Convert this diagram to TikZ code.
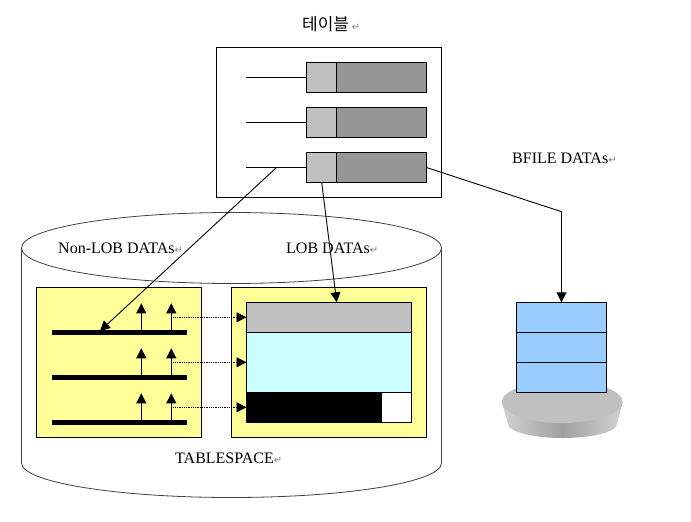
\documentclass[tikz,border=0pt]{standalone}
\usepackage{fontspec}
\setmainfont{Liberation Serif}
\newfontfamily\krfont{Noto Sans CJK KR}
\newfontfamily\retfont{DejaVu Sans}
\usetikzlibrary{arrows.meta}
\definecolor{keygray}{HTML}{C0C0C0}
\definecolor{valgray}{HTML}{969696}
\definecolor{lobyellow}{HTML}{FFFF99}
\definecolor{lobcyan}{HTML}{CCFFFF}
\definecolor{fileblue}{HTML}{99CCFF}
\definecolor{cylline}{HTML}{404040}
\newcommand{\retmark}{{\retfont\fontsize{10}{10}\selectfont\textcolor{gray}{↵}}}
\tikzset{
  cell/.style={draw=black,line width=0.9pt,minimum width=#1,inner sep=0pt,outer sep=0pt},
  cell/.default=30pt,
  bar/.style={fill=black,minimum width=135pt,minimum height=5pt,inner sep=0pt,outer sep=0pt},
  label/.style={anchor=west,inner sep=0pt,font=\fontsize{16}{16}\selectfont},
  arrowline/.style={line width=0.9pt,-{Triangle[length=10pt,width=10pt]}},
  dotline/.style={line width=0.8pt,densely dotted,-{Triangle[length=10pt,width=10pt]}}
}

\begin{document}
\begin{tikzpicture}[x=1pt,y=1pt]
\useasboundingbox (0,0) rectangle (691,-522);
% tablespace cylinder
\draw [cylline,line width=0.8pt,fill=white] (21.5,-248) -- (21.5,-463) arc (180:360:210 and 34.5) -- (441.5,-248);
\draw [cylline,line width=0.8pt,fill=white] (231.5,-248) ellipse (210 and 35.5);
% table
\node [cell,minimum width=225pt,minimum height=150pt] (tablebox) at (329,-122.5) {};
\node [cell,minimum height=30pt,fill=keygray] (key1) at (321.5,-77.5) {};
\node [cell,minimum width=90pt,minimum height=30pt,fill=valgray] (val1) at (381.5,-77.5) {};
\node [cell,minimum height=30pt,fill=keygray] (key2) at (321.5,-122.5) {};
\node [cell,minimum width=90pt,minimum height=30pt,fill=valgray] (val2) at (381.5,-122.5) {};
\node [cell,minimum height=30pt,fill=keygray] (key3) at (321.5,-167.5) {};
\node [cell,minimum width=90pt,minimum height=30pt,fill=valgray] (val3) at (381.5,-167.5) {};
\coordinate (col1) at (246,-77.5);
\coordinate (col2) at (246,-122.5);
\coordinate (col3) at (246,-167.5);
\draw [line width=0.9pt] (col1) -- (key1.west);
\draw [line width=0.9pt] (col2) -- (key2.west);
\draw [line width=0.9pt] (col3) -- (key3.west);
% non-lob segment
\node [cell,minimum width=165pt,minimum height=150pt,fill=lobyellow] (nonlobbox) at (119,-362.5) {};
\node [bar] (bar1) at (119,-332.3) {};
\node [bar] (bar2) at (119,-377.3) {};
\node [bar] (bar3) at (119,-422.3) {};
% lob segment
\node [cell,minimum width=195pt,minimum height=150pt,fill=lobyellow] (lobbox) at (329,-362.5) {};
\node [cell,minimum width=165pt,minimum height=30pt,fill=keygray] (lobhead) at (329,-317.3) {};
\node [cell,minimum width=165pt,minimum height=60pt,fill=lobcyan] (lobbody) at (329,-362.3) {};
\node [cell,minimum width=165pt,minimum height=30pt,fill=white] (lobtail) at (329,-407.3) {};
\node [cell,minimum width=135pt,minimum height=30pt,fill=black] (lobused) at (314,-407.3) {};
% pointers inside the segments
\coordinate (up1a) at (141.3,-332.3);
\coordinate (up1b) at (171.3,-332.3);
\coordinate (up2a) at (141.3,-377.3);
\coordinate (up2b) at (171.3,-377.3);
\coordinate (up3a) at (141.3,-422.3);
\coordinate (up3b) at (171.3,-422.3);
\coordinate (tip1a) at (141.3,-303.3);
\coordinate (tip1b) at (171.3,-303.3);
\coordinate (tip2a) at (141.3,-348.3);
\coordinate (tip2b) at (171.3,-348.3);
\coordinate (tip3a) at (141.3,-393.3);
\coordinate (tip3b) at (171.3,-393.3);
\draw [arrowline] (up1a) -- (tip1a);
\draw [arrowline] (up1b) -- (tip1b);
\draw [arrowline] (up2a) -- (tip2a);
\draw [arrowline] (up2b) -- (tip2b);
\draw [arrowline] (up3a) -- (tip3a);
\draw [arrowline] (up3b) -- (tip3b);
\coordinate (dot1) at (171.3,-317.3);
\coordinate (dot2) at (171.3,-362.3);
\coordinate (dot3) at (171.3,-407.3);
\draw [dotline] (dot1) -- (lobhead.west);
\draw [dotline] (dot2) -- (lobbody.west);
\draw [dotline] (dot3) -- (lobused.west);
% disk and stack
\shade [left color=gray!35,right color=gray!35,middle color=gray!75] (501.7,-402) -- (508,-424) arc (180:360:54.5 and 14) -- (622.7,-402) -- cycle;
\fill [keygray] (562.2,-402) ellipse (60.5 and 21);
\node [cell,minimum width=90pt,minimum height=30pt,fill=fileblue] (file1) at (561.5,-317.3) {};
\node [cell,minimum width=90pt,minimum height=30pt,fill=fileblue] (file2) at (561.5,-347.3) {};
\node [cell,minimum width=90pt,minimum height=30pt,fill=fileblue] (file3) at (561.5,-377.3) {};
% links from the last row
\coordinate (tap) at (276.5,-167.5);
\coordinate (nonlobtip) at (100,-331);
\coordinate (keyfoot) at (321.7,-182.5);
\coordinate (lobtip) at (336.7,-302.3);
\coordinate (bend) at (561.5,-211.7);
\draw [arrowline] (tap) -- (nonlobtip);
\draw [arrowline] (keyfoot) -- (lobtip);
\draw [arrowline] (val3.east) -- (bend) -- (file1.north);
% labels
\node [label,font=\krfont\fontsize{17}{17}\selectfont] (title) at (302,-24) {테이블\,\retmark};
\node [label] (bfilelabel) at (512,-158) {BFILE DATAs\retmark};
\node [label] (nonloblabel) at (58,-248) {Non-LOB DATAs\retmark};
\node [label] (loblabel) at (286,-248) {LOB DATAs\retmark};
\node [label] (spacelabel) at (175,-458.5) {TABLESPACE\retmark};
\end{tikzpicture}
\end{document}
